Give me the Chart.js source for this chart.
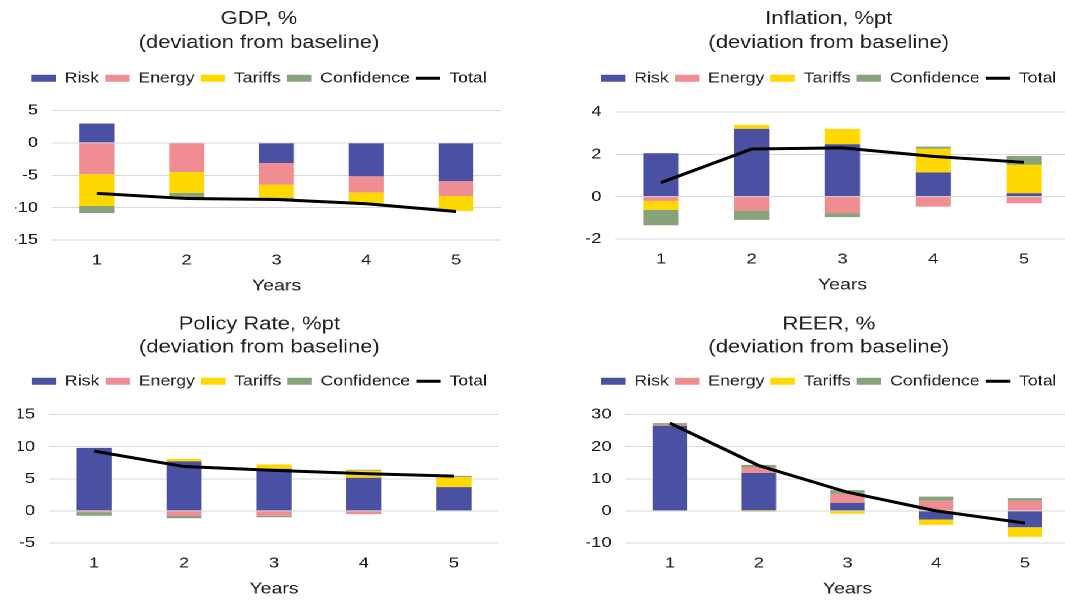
<!DOCTYPE html>
<html><head><meta charset="utf-8">
<script src="https://cdn.jsdelivr.net/npm/chart.js@4.4.1/dist/chart.umd.min.js"></script>
<style>
html,body{margin:0;padding:0;width:1065px;height:600px;overflow:hidden;background:#fff;}
#page{position:absolute;left:0;top:0;width:873px;height:600px;transform:scaleX(1.22);transform-origin:0 0;}
.box{position:absolute;}
</style></head><body>
<div id="page">
<div class="box" style="left:0px;top:0px;width:411.5px;height:300px"><canvas id="c1"></canvas></div>
<div class="box" style="left:460px;top:0px;width:417.5px;height:300px"><canvas id="c2"></canvas></div>
<div class="box" style="left:0px;top:306px;width:409.8px;height:294px"><canvas id="c3"></canvas></div>
<div class="box" style="left:460px;top:306px;width:417.5px;height:294px"><canvas id="c4"></canvas></div>
</div>
<script>
// ---- data ----
const years = ['1', '2', '3', '4', '5'];
const seriesNames = ['Risk', 'Energy', 'Tariffs', 'Confidence', 'Total'];

const gdpRisk       = [3.0, 0.0, -3.1, -5.15, -5.9];
const gdpEnergy     = [-4.85, -4.5, -3.35, -2.5, -2.3];
const gdpTariffs    = [-4.9, -3.2, -2.0, -1.65, -2.3];
const gdpConfidence = [-1.1, -0.9, -0.3, -0.05, -0.05];
const gdpTotal      = [-7.8, -8.6, -8.75, -9.4, -10.6];

const infRisk       = [2.05, 3.2, 2.47, 1.14, 0.16];
const infEnergy     = [-0.2, -0.66, -0.78, -0.47, -0.31];
const infTariffs    = [-0.42, 0.19, 0.73, 1.12, 1.34];
const infConfidence = [-0.73, -0.44, -0.19, 0.1, 0.42];
const infTotal      = [0.66, 2.25, 2.3, 1.9, 1.62];

const polRisk       = [9.8, 7.7, 6.55, 5.15, 3.7];
const polEnergy     = [-0.2, -0.8, -0.75, -0.5, 0];
const polTariffs    = [0, 0.4, 0.67, 1.1, 1.55];
const polConfidence = [-0.55, -0.35, -0.25, 0.15, 0.2];
const polTotal      = [9.3, 6.9, 6.3, 5.8, 5.4];

const reerRisk       = [26.5, 11.8, 2.5, -2.7, -5.1];
const reerEnergy     = [0.4, 1.65, 2.8, 3.2, 3.1];
const reerTariffs    = [0, -0.3, -0.9, -1.65, -3.0];
const reerConfidence = [0.4, 0.85, 1.15, 1.25, 0.85];
const reerTotal      = [27.3, 14.1, 5.8, 0.0, -3.8];

const titles = [
  ['GDP, %', '(deviation from baseline)'],
  ['Inflation, %pt', '(deviation from baseline)'],
  ['Policy Rate, %pt', '(deviation from baseline)'],
  ['REER, %', '(deviation from baseline)']
];
const yRanges = [[-15, 5, 5], [-2, 4, 2], [-5, 15, 5], [-10, 30, 10]];
const xTitle = 'Years';

// ---- styles ----
const colors = ['#4b51a2', '#ef8d93', '#ffd800', '#88a27c'];
const FONT = "'Liberation Sans', Arial, sans-serif";
const TEXT = '#1c1c1c';

function makeChart(id, title, yr, bars, total, lay) {
  const datasets = bars.map((vals, i) => ({
    type: 'bar', label: seriesNames[i], data: vals,
    backgroundColor: colors[i], borderWidth: 0, order: 1, stack: 's',
    categoryPercentage: 1.0, barPercentage: 0.39
  }));
  datasets.push({
    type: 'line', label: seriesNames[4], data: total, borderColor: '#000',
    backgroundColor: '#000', borderWidth: 3, pointRadius: 0, tension: 0,
    fill: false, order: 0, stack: 'total'
  });
  new Chart(document.getElementById(id), {
    type: 'bar',
    data: { labels: years, datasets },
    options: {
      responsive: true, maintainAspectRatio: false, animation: false,
      devicePixelRatio: 2,
      layout: { padding: { left: lay.L, right: 0, top: 0, bottom: lay.B } },
      plugins: {
        tooltip: { enabled: false },
        title: {
          display: true, text: title, color: TEXT,
          font: { family: FONT, size: 18, weight: 'normal', lineHeight: lay.tlh / 18 },
          padding: { top: 7, bottom: lay.tpb }
        },
        subtitle: {
          display: true, text: '', position: 'top', weight: 500,
          font: { size: 1, lineHeight: 1 }, padding: { top: 0, bottom: lay.sp - 1 }
        },
        legend: {
          display: true, position: 'top',
          labels: {
            color: TEXT, font: { family: FONT, size: 14.5 },
            usePointStyle: true, pointStyleWidth: 20, boxHeight: 7, boxWidth: 20, padding: 5,
            sort: (a, b) => a.datasetIndex - b.datasetIndex,
            generateLabels: (chart) => {
              const items = Chart.defaults.plugins.legend.labels.generateLabels(chart);
              items.forEach(it => {
                const ds = chart.data.datasets[it.datasetIndex];
                if (ds.type === 'line') {
                  it.pointStyle = 'line'; it.lineWidth = 3; it.strokeStyle = '#000'; it.fillStyle = '#000';
                } else {
                  it.pointStyle = 'rect'; it.lineWidth = 0; it.fillStyle = ds.backgroundColor;
                }
              });
              return items;
            }
          }
        }
      },
      scales: {
        x: {
          stacked: true,
          grid: { display: false, drawTicks: false },
          border: { display: false },
          ticks: { color: TEXT, font: { family: FONT, size: 15 }, padding: 11.5 },
          title: { display: true, text: xTitle, color: TEXT,
                   font: { family: FONT, size: 16 }, padding: { top: 4, bottom: 0 } },
          afterFit: (s) => { s.height = 55.6; }
        },
        y: {
          stacked: true, min: yr[0], max: yr[1],
          ticks: { stepSize: yr[2], color: TEXT, font: { family: FONT, size: 15 }, padding: 11.5 },
          grid: { color: '#d9d9d9', lineWidth: 1, drawTicks: false },
          border: { display: false },
          afterFit: (s) => { s.width = lay.yw; }
        }
      }
    }
  });
}

makeChart('c1', titles[0], yRanges[0], [gdpRisk, gdpEnergy, gdpTariffs, gdpConfidence], gdpTotal,
  { L: 12.5, yw: 30.1, B: 4.4, sp: 15, tlh: 24, tpb: 11 });
makeChart('c2', titles[1], yRanges[1], [infRisk, infEnergy, infTariffs, infConfidence], infTotal,
  { L: 20.5, yw: 24, B: 5.4, sp: 16.4, tlh: 24, tpb: 11 });
makeChart('c3', titles[2], yRanges[2], [polRisk, polEnergy, polTariffs, polConfidence], polTotal,
  { L: 14.8, yw: 25.4, B: 1.4, sp: 16, tlh: 23, tpb: 10 });
makeChart('c4', titles[3], yRanges[3], [reerRisk, reerEnergy, reerTariffs, reerConfidence], reerTotal,
  { L: 20.7, yw: 32, B: 1.4, sp: 16, tlh: 23, tpb: 10 });
</script>
</body></html>
